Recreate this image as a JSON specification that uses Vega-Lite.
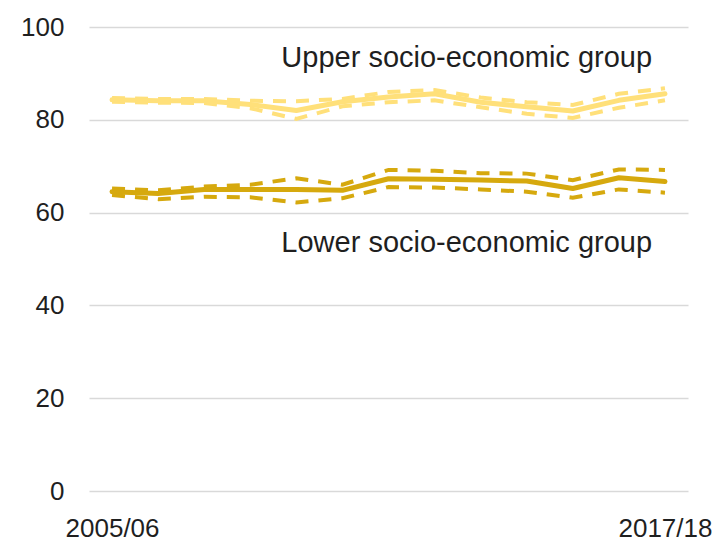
{
  "$schema": "https://vega.github.io/schema/vega-lite/v6.json",
  "width": 599,
  "height": 464,
  "autosize": {"type": "none"},
  "padding": {"left": 89, "top": 27, "right": 30, "bottom": 51},
  "background": "white",
  "config": {"view": {"stroke": null}, "font": "Liberation Sans"},
  "data": {
    "values": [
      {"year": "2005/06", "group": "Upper", "est": 84.3, "lo": 83.9, "hi": 84.7},
      {"year": "2006/07", "group": "Upper", "est": 84.1, "lo": 83.7, "hi": 84.5},
      {"year": "2007/08", "group": "Upper", "est": 84.1, "lo": 83.6, "hi": 84.5},
      {"year": "2008/09", "group": "Upper", "est": 83.3, "lo": 82.5, "hi": 84.1},
      {"year": "2009/10", "group": "Upper", "est": 82.0, "lo": 80.2, "hi": 84.0},
      {"year": "2010/11", "group": "Upper", "est": 83.9, "lo": 82.9, "hi": 84.5},
      {"year": "2011/12", "group": "Upper", "est": 84.9, "lo": 83.8, "hi": 86.0},
      {"year": "2012/13", "group": "Upper", "est": 85.6, "lo": 84.2, "hi": 86.4},
      {"year": "2013/14", "group": "Upper", "est": 83.8, "lo": 82.7, "hi": 84.8},
      {"year": "2014/15", "group": "Upper", "est": 82.8, "lo": 81.3, "hi": 83.8},
      {"year": "2015/16", "group": "Upper", "est": 81.9, "lo": 80.4, "hi": 83.2},
      {"year": "2016/17", "group": "Upper", "est": 84.2, "lo": 82.6, "hi": 85.6},
      {"year": "2017/18", "group": "Upper", "est": 85.6, "lo": 84.2, "hi": 86.8},
      {"year": "2005/06", "group": "Lower", "est": 64.5, "lo": 63.8, "hi": 65.2},
      {"year": "2006/07", "group": "Lower", "est": 64.1, "lo": 62.9, "hi": 64.8},
      {"year": "2007/08", "group": "Lower", "est": 65.0, "lo": 63.4, "hi": 65.6},
      {"year": "2008/09", "group": "Lower", "est": 65.0, "lo": 63.3, "hi": 66.0},
      {"year": "2009/10", "group": "Lower", "est": 65.0, "lo": 62.2, "hi": 67.4},
      {"year": "2010/11", "group": "Lower", "est": 64.8, "lo": 63.1, "hi": 66.0},
      {"year": "2011/12", "group": "Lower", "est": 67.3, "lo": 65.5, "hi": 69.2},
      {"year": "2012/13", "group": "Lower", "est": 67.2, "lo": 65.4, "hi": 69.0},
      {"year": "2013/14", "group": "Lower", "est": 67.0, "lo": 65.0, "hi": 68.5},
      {"year": "2014/15", "group": "Lower", "est": 66.8, "lo": 64.5, "hi": 68.4},
      {"year": "2015/16", "group": "Lower", "est": 65.2, "lo": 63.2, "hi": 67.0},
      {"year": "2016/17", "group": "Lower", "est": 67.5, "lo": 65.0, "hi": 69.3},
      {"year": "2017/18", "group": "Lower", "est": 66.7, "lo": 64.3, "hi": 69.2}
    ]
  },
  "encoding": {
    "x": {
      "field": "year",
      "type": "ordinal",
      "scale": {"type": "point", "padding": 0.5},
      "axis": {
        "title": null,
        "values": ["2005/06", "2017/18"],
        "ticks": false,
        "domain": false,
        "grid": false,
        "labelAngle": 0,
        "labelFontSize": 26,
        "labelColor": "#1f1f1f",
        "labelPadding": 24,
        "labelFont": "Liberation Sans"
      }
    }
  },
  "layer": [
    {
      "mark": {"type": "line", "strokeWidth": 5, "strokeCap": "round", "strokeJoin": "round"},
      "encoding": {
        "y": {
          "field": "est",
          "type": "quantitative",
          "scale": {"domain": [0, 100], "nice": false},
          "axis": {
            "title": null,
            "values": [0, 20, 40, 60, 80, 100],
            "ticks": false,
            "domain": false,
            "grid": true,
            "gridColor": "#d9d9d9",
            "gridWidth": 1.5,
            "labelFontSize": 26,
            "labelPadding": 25,
            "labelColor": "#1f1f1f",
            "labelFlush": false,
            "labelOverlap": false,
            "labelFont": "Liberation Sans"
          }
        },
        "color": {
          "field": "group",
          "type": "nominal",
          "scale": {"domain": ["Upper", "Lower"], "range": ["#ffe07a", "#d6a90e"]},
          "legend": null
        }
      }
    },
    {
      "mark": {"type": "line", "strokeWidth": 4, "strokeDash": [13, 10]},
      "encoding": {
        "y": {"field": "lo", "type": "quantitative"},
        "color": {"field": "group", "type": "nominal", "legend": null}
      }
    },
    {
      "mark": {"type": "line", "strokeWidth": 4, "strokeDash": [13, 10]},
      "encoding": {
        "y": {"field": "hi", "type": "quantitative"},
        "color": {"field": "group", "type": "nominal", "legend": null}
      }
    },
    {
      "data": {
        "values": [
          {"year": "2009/10", "pos": 91.3, "label": "Upper socio-economic group"},
          {"year": "2009/10", "pos": 51.5, "label": "Lower socio-economic group"}
        ]
      },
      "mark": {
        "type": "text",
        "align": "left",
        "baseline": "alphabetic",
        "dx": -15,
        "fontSize": 29,
        "color": "#1f1f1f",
        "font": "Liberation Sans"
      },
      "encoding": {
        "y": {"field": "pos", "type": "quantitative"},
        "text": {"field": "label"}
      }
    }
  ]
}
